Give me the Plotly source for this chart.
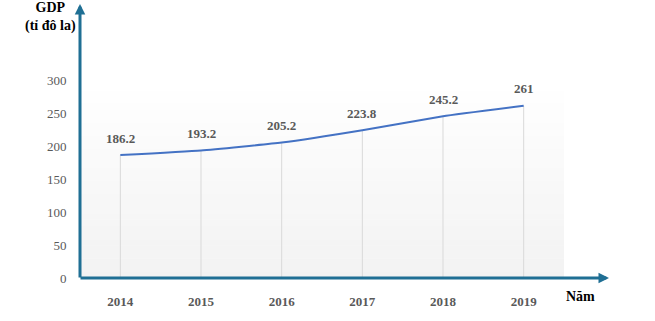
import plotly.graph_objects as go

years = ["2014", "2015", "2016", "2017", "2018", "2019"]
gdp = [186.2, 193.2, 205.2, 223.8, 245.2, 261]
labels = ["186.2", "193.2", "205.2", "223.8", "245.2", "261"]
y_ticks = [0, 50, 100, 150, 200, 250, 300]

W, H = 655, 321
ml, mr, mt, mb = 80, 91, 50, 43
pw, ph = W - ml - mr, H - mt - mb
ymax = 345.5
axis_col = "#1F6F94"
tick_font = dict(family="Liberation Serif", size=13, color="#595959")

fig = go.Figure()

# drop lines from each point to the baseline
dx, dy = [], []
for yr, v in zip(years, gdp):
    dx += [yr, yr, None]
    dy += [0, v, None]
fig.add_trace(go.Scatter(x=dx, y=dy, mode="lines",
                         line=dict(color="#D9D9D9", width=1),
                         hoverinfo="skip", showlegend=False))

fig.add_trace(go.Scatter(x=years, y=gdp, mode="lines",
                         line=dict(color="#4472C4", width=2, shape="spline", smoothing=0.4),
                         showlegend=False))

for i, (v, t) in enumerate(zip(gdp, labels)):
    fig.add_annotation(x=i, y=v, text="<b>%s</b>" % t, showarrow=False,
                       yshift=17, yanchor="middle", font=tick_font)

# gradient background in the plot area
shapes = []
n = 30
for k in range(n):
    f0 = k / n
    f1 = (k + 1) / n
    c = int(round(242 + (255 - 242) * (f0 + 0.5 / n)))
    shapes.append(dict(type="rect", xref="paper", yref="paper",
                       x0=0, x1=1, y0=f0 * 0.85, y1=f1 * 0.85 + 0.002,
                       fillcolor="rgb(%d,%d,%d)" % (c, c, c),
                       line=dict(width=0), layer="below"))
fig.update_layout(shapes=shapes)

# axes arrows
tip_y = 4
fig.add_annotation(xref="paper", yref="paper", x=0, y=1 + (mt - tip_y) / ph,
                   ax=0, ay=(H - mb) - tip_y + 1, axref="pixel", ayref="pixel", showarrow=True,
                   arrowhead=2, arrowsize=0.7, arrowwidth=3, arrowcolor=axis_col, text="")
tip_x = 609
fig.add_annotation(xref="paper", yref="paper", x=(tip_x - ml) / pw, y=0,
                   ax=-(tip_x - ml) - 1, ay=0, axref="pixel", ayref="pixel", showarrow=True,
                   arrowhead=2, arrowsize=0.7, arrowwidth=3, arrowcolor=axis_col, text="")

fig.add_annotation(xref="paper", yref="paper", x=(50 - ml) / pw, xanchor="center",
                   y=1 + (mt - 17) / ph, yanchor="middle", text="<b>GDP<br>(tỉ đô la)</b>",
                   showarrow=False, font=dict(family="Liberation Serif", size=14, color="#000000"))
fig.add_annotation(xref="paper", yref="paper", x=(580 - ml) / pw, xanchor="center",
                   y=-(296 - (H - mb)) / ph, yanchor="middle", text="<b>Năm</b>",
                   showarrow=False, font=dict(family="Liberation Serif", size=14, color="#000000"))

fig.update_xaxes(type="category", range=[-0.5, 5.5], showgrid=False, zeroline=False,
                 showline=False, ticks="outside", ticklen=11, tickcolor="rgba(0,0,0,0)",
                 tickfont=tick_font, tickprefix="<b>", ticksuffix="</b>")
fig.update_yaxes(range=[0, ymax], tickvals=y_ticks, showgrid=False, zeroline=False,
                 showline=False, ticks="outside", ticklen=10, tickcolor="rgba(0,0,0,0)",
                 tickfont=tick_font, tickprefix="<b>", ticksuffix="</b>")

fig.update_layout(width=W, height=H, margin=dict(l=ml, r=mr, t=mt, b=mb),
                  paper_bgcolor="white", plot_bgcolor="rgba(0,0,0,0)")

fig.write_html("out.html")
